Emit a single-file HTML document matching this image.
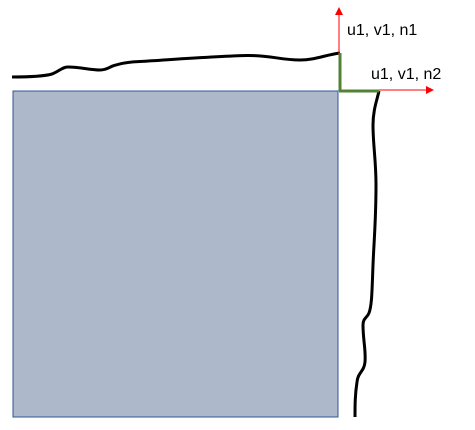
<!DOCTYPE html>
<html><head><meta charset="utf-8"><style>
html,body{margin:0;padding:0;background:#fff;}
svg{display:block;font-family:"Liberation Sans","DejaVu Sans",sans-serif;}
</style></head><body>
<svg width="475" height="430" viewBox="0 0 475 430">
<defs><marker id="ah" markerWidth="8" markerHeight="8" refX="7" refY="4" orient="auto" markerUnits="userSpaceOnUse"><path d="M0,0 L8,4 L0,8 z" fill="#ff0000"/></marker></defs>
<rect x="13" y="91" width="325" height="326" fill="#adb9ca" stroke="#2f5597" stroke-width="1"/>
<path d="M12,77 C30,77 45,76 52,74 C60,71 62,67 68,67 C80,67 90,70 100,70 C108,70 110,66 116,65 C122,63 128,62 140,61.5 C180,59 220,56 247,55.5 C270,55 280,60 300,60 C315,60 325,55 340,53" fill="none" stroke="#000" stroke-width="3"/>
<path d="M379,91 C377,100 373,110 373,125 C373,145 376,160 376,185 C376,220 374,240 373,265 C372,290 372,305 369,313 C367,318 363,318 363,325 C363,340 366,350 365,362 C364,372 358,372 357,382 C355,395 355,405 355,417" fill="none" stroke="#000" stroke-width="3"/>
<line x1="340" y1="53" x2="340" y2="91" stroke="#548235" stroke-width="3"/>
<line x1="339" y1="91" x2="379" y2="91" stroke="#548235" stroke-width="3"/>
<line x1="339" y1="53" x2="339" y2="8" stroke="#ff0000" stroke-width="1" marker-end="url(#ah)"/>
<line x1="379" y1="90" x2="433" y2="90" stroke="#ff0000" stroke-width="1" marker-end="url(#ah)"/>
<text x="347" y="35" font-size="16" fill="#000">u1, v1, n1</text>
<text x="371" y="79" font-size="16" fill="#000">u1, v1, n2</text>
</svg>
</body></html>
